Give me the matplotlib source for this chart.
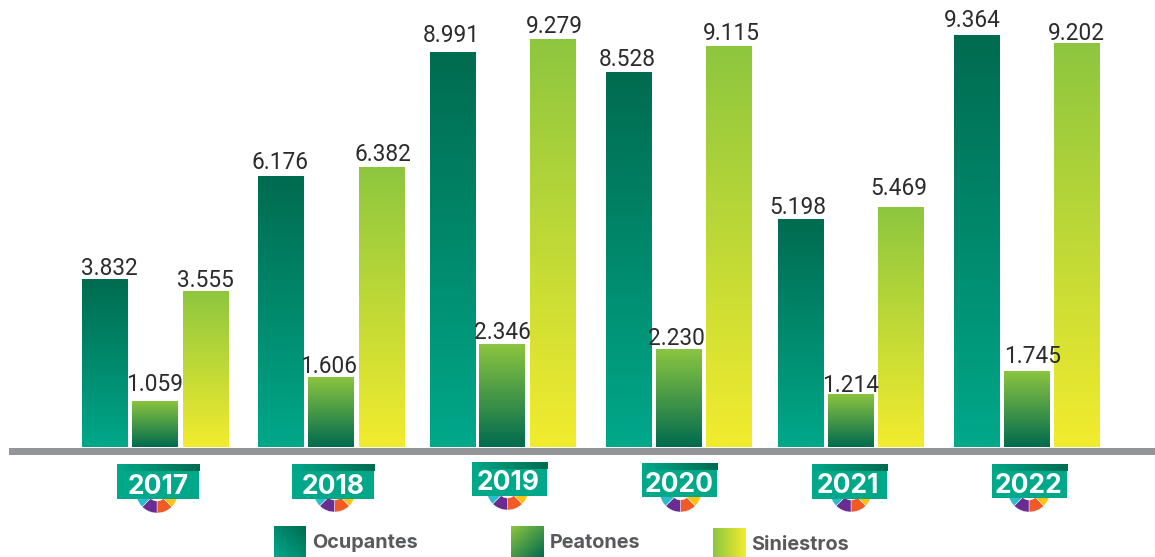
import numpy as np
import matplotlib
matplotlib.use("Agg")
import matplotlib.pyplot as plt
from matplotlib.colors import LinearSegmentedColormap
from matplotlib.patches import Rectangle, Polygon

years = ["2017", "2018", "2019", "2020", "2021", "2022"]
ocupantes = [3832, 6176, 8991, 8528, 5198, 9364]
peatones = [1059, 1606, 2346, 2230, 1214, 1745]
siniestros = [3555, 6382, 9279, 9115, 5469, 9202]
series_names = ["Ocupantes", "Peatones", "Siniestros"]

# layout (pixels)
W, H = 1155, 557
BASE_PX = 447.5
PX_PER_UNIT = 0.044
BAR_W = 45.5
oc_left = [82, 258, 430, 606, 778, 954]
pe_left = [132, 308, 479, 656, 828, 1004]
si_left = [183, 359, 530, 706, 878, 1054]
oc_dx = [5, -1, -2, -1, -3, -4]
pe_dx = [0, -2, 1, -2, 0, 6]
si_dx = [0, 1, 2, 3, -2, 0]
oc_gap = [3.4, 6.3, 9.4, 5.8, 4.3, 8]
pe_gap = [10.4, 4.3, 4.8, 3.9, 1.6, 8.2]
si_gap = [3.6, 5.2, 6.7, 6.9, 12, 3.1]

badge_left = [117, 292, 472, 642, 812, 992]
badge_right = [199, 374, 547, 717, 887, 1067]
badge_top = [464, 464, 462, 463, 464, 464]
badge_bottom = [499, 499, 496, 497, 499, 498]
wheel_cx = [157, 334.5, 507.5, 680.5, 851, 1029]
wheel_bot = [513, 512, 510, 512, 512, 512]
year_cx = [158, 333, 508, 679, 847.5, 1028]
year_cy = [484, 484, 480, 482, 483, 483]

DARK, TEAL, LIME, YEL = "#006B4F", "#00A88A", "#8DC63F", "#F2EC2E"
TEXT = "#2b2b2b"
plt.rcParams["font.family"] = ["Inter", "DejaVu Sans"]

fig = plt.figure(figsize=(W / 100, H / 100), dpi=100)
ax = fig.add_axes([0, 0, 1, 1])
ax.axis("off")


def py(p):
    return (BASE_PX - p) / PX_PER_UNIT


def gradient_fill(patch, c0, c1, g):
    cm = LinearSegmentedColormap.from_list("g", [c0, c1])
    x, y = patch.get_x(), patch.get_y()
    w, h = patch.get_width(), patch.get_height()
    im = ax.imshow(g, cmap=cm, vmin=0, vmax=1, aspect="auto",
                   extent=(x, x + w, y, y + h), origin="upper",
                   interpolation="bilinear", zorder=patch.get_zorder())
    im.set_clip_path(patch)
    patch.set_facecolor("none")


G_V = np.linspace(0, 1, 256)[:, None]
G_H = np.linspace(0, 1, 256)[None, :]
_u, _v = np.meshgrid(np.linspace(0, 1, 64), np.linspace(0, 1, 64))
G_DOWN = (_u + _v) / 2          # top-left to bottom-right
G_UP = (_u + (1 - _v)) / 2      # bottom-left to top-right

styles = [(ocupantes, oc_left, oc_dx, oc_gap, DARK, TEAL),
          (peatones, pe_left, pe_dx, pe_gap, LIME, DARK),
          (siniestros, si_left, si_dx, si_gap, LIME, YEL)]
for vals, lefts, dxs, gaps, c0, c1 in styles:
    bars = ax.bar(lefts, vals, width=BAR_W, align="edge", linewidth=0, zorder=2)
    for b, v, dx, gap in zip(bars, vals, dxs, gaps):
        gradient_fill(b, c0, c1, G_V)
        s = f"{v:,}".replace(",", ".")
        ax.text(b.get_x() + BAR_W / 2 + dx, v + gap / PX_PER_UNIT, s, ha="center",
                va="baseline", fontsize=16.3, family="Roboto", color=TEXT)

# ground line
ax.add_patch(Rectangle((8.5, py(455)), 1146.5, 7.5 / PX_PER_UNIT, fc="#939598", lw=0, zorder=3))

# year badges
R, R_IN = 21, 9
spans = [(270, 315, "#F15A24"), (225, 270, "#6A2C91"),
         (180, 225, "#2BBBCB"), (315, 360, "#FFC20E")]
for yr, l, r, t, b, wx, wb, tx, ty in zip(years, badge_left, badge_right, badge_top,
                                          badge_bottom, wheel_cx, wheel_bot, year_cx, year_cy):
    cy_px = wb - R
    for a0, a1, col in spans:
        th = np.radians(np.linspace(a0, a1, 20))
        outer = np.c_[wx + R * np.cos(th), py(cy_px - R * np.sin(th))]
        inner = np.c_[wx + R_IN * np.cos(th[::-1]), py(cy_px - R_IN * np.sin(th[::-1]))]
        ax.add_patch(Polygon(np.r_[outer, inner], fc=col, ec="white", lw=0.3, zorder=4))
    ax.add_patch(Rectangle((l, py(b)), r - l, (b - t) / PX_PER_UNIT, fc="#00A88A", lw=0, zorder=5))
    strip = Rectangle((l, py(t + 7)), r - l + 1, 7 / PX_PER_UNIT, lw=0, zorder=6)
    ax.add_patch(strip)
    gradient_fill(strip, "#00A88A", DARK, G_H)
    ax.text(tx, py(ty), yr, ha="center", va="center_baseline", fontsize=19,
            fontweight="bold", color="white", zorder=7)

# legend
leg_x = [274, 511, 713]
leg_w = [32, 33, 33]
leg_y = [526, 526, 528]
leg_txt_x = [312.5, 550, 751.5]
leg_fill = [(TEAL, DARK, G_UP), (LIME, DARK, G_DOWN), (LIME, YEL, G_H)]
for name, x, w, y, tx, (c0, c1, g) in zip(series_names, leg_x, leg_w, leg_y, leg_txt_x, leg_fill):
    r = Rectangle((x, py(557)), w, (557 - y) / PX_PER_UNIT, lw=0, zorder=2)
    ax.add_patch(r)
    gradient_fill(r, c0, c1, g)
    ax.text(tx, py(y + 17.5), name, ha="left", va="center", fontsize=14.3,
            fontweight="bold", color="#58595B")

ax.set_xlim(0, W)
ax.set_ylim(py(H), py(0))
fig.savefig("out.png", dpi=100)
